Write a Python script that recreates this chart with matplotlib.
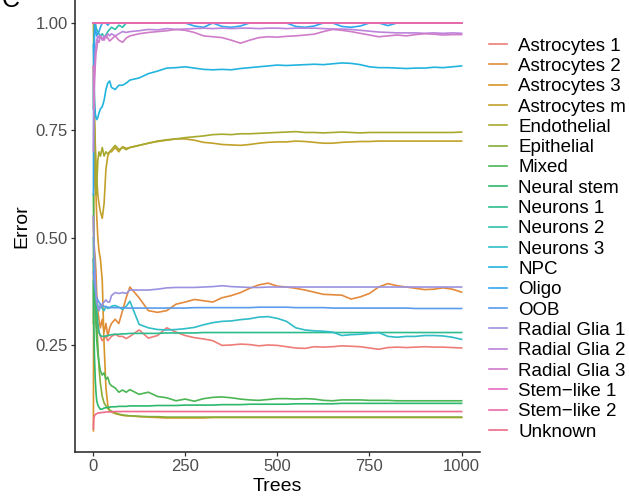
import matplotlib
matplotlib.use('Agg')
import matplotlib.pyplot as plt

# number of trees at each sampled point (shared by all series)
trees = [1, 2, 4, 6, 8, 10, 13, 16, 20, 25, 30, 35, 40, 45, 50, 60, 70, 80, 90,
         100, 125, 150, 175, 200, 225, 250, 275, 300, 325,
         350, 375, 400, 425, 450, 475, 500, 525, 550, 575,
         600, 625, 650, 675, 700, 725, 750, 775, 800, 825,
         850, 875, 900, 925, 950, 975, 1000]

astro1 = [0.45, 0.40, 0.35, 0.33, 0.30, 0.29, 0.30, 0.28, 0.27, 0.26, 0.265, 0.27, 0.26, 0.265, 0.27, 0.275, 0.27, 0.27, 0.265,
          0.27, 0.285, 0.266, 0.272, 0.29, 0.28, 0.272, 0.267, 0.264, 0.26,
          0.249, 0.25, 0.252, 0.251, 0.248, 0.25, 0.249, 0.246, 0.243, 0.242,
          0.246, 0.245, 0.246, 0.248, 0.247, 0.246, 0.243, 0.24, 0.244, 0.245,
          0.244, 0.245, 0.246, 0.245, 0.245, 0.244, 0.243]
astro2 = [0.55, 0.50, 0.47, 0.45, 0.42, 0.37, 0.33, 0.31, 0.29, 0.31, 0.28, 0.30, 0.27, 0.29, 0.30, 0.31, 0.30, 0.33, 0.36,
          0.385, 0.36, 0.33, 0.326, 0.33, 0.345, 0.35, 0.356, 0.353, 0.35,
          0.36, 0.365, 0.372, 0.382, 0.39, 0.394, 0.387, 0.385, 0.382, 0.378,
          0.373, 0.368, 0.367, 0.366, 0.357, 0.362, 0.37, 0.385, 0.393, 0.388,
          0.385, 0.382, 0.379, 0.38, 0.383, 0.38, 0.373]
astro3 = [0.05, 0.60, 0.70, 0.65, 0.60, 0.55, 0.50, 0.47, 0.45, 0.40, 0.25, 0.15, 0.11, 0.097, 0.094, 0.09, 0.088, 0.086, 0.085,
          0.085, 0.083, 0.082, 0.081, 0.08, 0.08, 0.08, 0.08, 0.08, 0.081,
          0.081, 0.081, 0.081, 0.081, 0.081, 0.081, 0.081, 0.081, 0.081, 0.081,
          0.081, 0.081, 0.081, 0.081, 0.081, 0.081, 0.081, 0.081, 0.081, 0.081,
          0.081, 0.081, 0.081, 0.081, 0.081, 0.081, 0.081]
astro_m = [1.0, 0.90, 0.80, 0.72, 0.68, 0.64, 0.60, 0.58, 0.56, 0.545, 0.58, 0.66, 0.69, 0.70, 0.70, 0.71, 0.70, 0.712, 0.708,
           0.71, 0.715, 0.72, 0.724, 0.727, 0.73, 0.73, 0.727, 0.722, 0.72,
           0.717, 0.716, 0.715, 0.717, 0.72, 0.722, 0.723, 0.723, 0.725, 0.724,
           0.722, 0.72, 0.72, 0.722, 0.723, 0.724, 0.724, 0.725, 0.725, 0.725,
           0.725, 0.725, 0.725, 0.725, 0.725, 0.725, 0.725]
endothelial = [0.90, 0.80, 0.75, 0.67, 0.60, 0.62, 0.68, 0.70, 0.69, 0.71, 0.69, 0.70, 0.695, 0.70, 0.705, 0.715, 0.705, 0.71, 0.705,
               0.71, 0.715, 0.72, 0.725, 0.728, 0.73, 0.733, 0.735, 0.737, 0.74,
               0.741, 0.74, 0.742, 0.742, 0.743, 0.744, 0.745, 0.746, 0.747, 0.745,
               0.745, 0.744, 0.745, 0.746, 0.745, 0.744, 0.745, 0.745, 0.745, 0.745,
               0.745, 0.745, 0.745, 0.745, 0.745, 0.745, 0.746]
epithelial = [0.30, 0.50, 0.45, 0.40, 0.35, 0.30, 0.25, 0.20, 0.16, 0.13, 0.115, 0.108, 0.102, 0.098, 0.096, 0.092, 0.089, 0.087, 0.086,
              0.085, 0.084, 0.083, 0.083, 0.082, 0.082, 0.082, 0.082, 0.082, 0.082,
              0.082, 0.082, 0.082, 0.082, 0.082, 0.082, 0.082, 0.082, 0.082, 0.082,
              0.082, 0.082, 0.082, 0.082, 0.082, 0.082, 0.082, 0.082, 0.082, 0.082,
              0.082, 0.082, 0.082, 0.082, 0.082, 0.082, 0.082]
mixed = [0.60, 0.50, 0.40, 0.35, 0.30, 0.26, 0.23, 0.21, 0.19, 0.18, 0.185, 0.17, 0.175, 0.16, 0.155, 0.15, 0.14, 0.145, 0.14,
         0.146, 0.135, 0.14, 0.13, 0.127, 0.12, 0.124, 0.119, 0.125, 0.128,
         0.129, 0.127, 0.124, 0.122, 0.121, 0.123, 0.125, 0.125, 0.124, 0.125,
         0.124, 0.121, 0.12, 0.122, 0.122, 0.122, 0.121, 0.121, 0.121, 0.12,
         0.12, 0.12, 0.12, 0.12, 0.12, 0.12, 0.12]
neural_stem = [0.40, 0.30, 0.22, 0.17, 0.14, 0.12, 0.11, 0.105, 0.10, 0.101, 0.103, 0.104, 0.105, 0.105, 0.106, 0.106, 0.107, 0.107, 0.107,
               0.108, 0.108, 0.108, 0.109, 0.109, 0.109, 0.11, 0.11, 0.11, 0.11,
               0.111, 0.111, 0.111, 0.112, 0.112, 0.112, 0.112, 0.112, 0.113, 0.113,
               0.113, 0.113, 0.113, 0.114, 0.114, 0.114, 0.114, 0.114, 0.114, 0.114,
               0.114, 0.114, 0.114, 0.114, 0.114, 0.114, 0.114]
neurons1 = [0.50, 0.45, 0.42, 0.39, 0.36, 0.33, 0.30, 0.28, 0.272, 0.27, 0.27, 0.271, 0.272, 0.273, 0.274, 0.275, 0.275, 0.276, 0.276,
            0.277, 0.277, 0.277, 0.277, 0.278, 0.278, 0.278, 0.278, 0.279, 0.279,
            0.279, 0.279, 0.279, 0.279, 0.279, 0.279, 0.279, 0.279, 0.279, 0.279,
            0.279, 0.279, 0.279, 0.279, 0.279, 0.279, 0.279, 0.279, 0.279, 0.279,
            0.279, 0.279, 0.279, 0.279, 0.279, 0.279, 0.279]
neurons2 = [0.80, 0.95, 1.0, 1.0, 0.99, 0.985, 0.98, 0.975, 0.97, 0.975, 0.968, 0.972, 0.98, 0.985, 0.99, 0.985, 0.995, 0.99, 1.0,
            1.0, 1.0, 1.0, 1.0, 1.0, 1.0, 1.0, 1.0, 1.0, 1.0,
            1.0, 1.0, 1.0, 1.0, 1.0, 1.0, 1.0, 1.0, 1.0, 1.0,
            1.0, 1.0, 1.0, 1.0, 1.0, 1.0, 1.0, 1.0, 1.0, 1.0,
            1.0, 1.0, 1.0, 1.0, 1.0, 1.0, 1.0]
neurons3 = [0.45, 0.42, 0.40, 0.38, 0.36, 0.35, 0.34, 0.33, 0.345, 0.335, 0.33, 0.34, 0.335, 0.337, 0.34, 0.342, 0.338, 0.333, 0.34,
            0.352, 0.298, 0.29, 0.286, 0.285, 0.286, 0.288, 0.291, 0.297, 0.302,
            0.305, 0.306, 0.309, 0.311, 0.315, 0.316, 0.312, 0.305, 0.29, 0.285,
            0.283, 0.282, 0.28, 0.272, 0.274, 0.275, 0.277, 0.279, 0.27, 0.268,
            0.27, 0.27, 0.272, 0.272, 0.271, 0.268, 0.263]
npc = [0.95, 0.90, 0.82, 0.79, 0.78, 0.775, 0.78, 0.79, 0.80, 0.805, 0.82, 0.845, 0.86, 0.865, 0.85, 0.845, 0.855, 0.855, 0.86,
       0.867, 0.872, 0.882, 0.888, 0.895, 0.896, 0.898, 0.895, 0.892, 0.891,
       0.892, 0.891, 0.894, 0.896, 0.898, 0.9, 0.902, 0.901, 0.902, 0.903,
       0.904, 0.903, 0.905, 0.907, 0.906, 0.903, 0.898, 0.896, 0.896, 0.895,
       0.894, 0.895, 0.895, 0.897, 0.896, 0.898, 0.9]
oligo = [0.60, 0.90, 0.97, 1.0, 0.98, 0.97, 0.975, 0.98, 0.99, 1.0, 1.0, 1.0, 0.995, 1.0, 1.0, 1.0, 1.0, 1.0, 1.0,
         1.0, 1.0, 1.0, 1.0, 1.0, 1.0, 1.0, 0.993, 0.99, 1.0,
         0.992, 0.99, 0.993, 1.0, 1.0, 1.0, 1.0, 1.0, 0.992, 0.99,
         0.993, 1.0, 1.0, 0.992, 0.99, 0.993, 1.0, 1.0, 0.994, 1.0,
         1.0, 1.0, 1.0, 1.0, 1.0, 1.0, 1.0]
oob = [0.42, 0.41, 0.39, 0.38, 0.37, 0.36, 0.355, 0.35, 0.345, 0.342, 0.34, 0.339, 0.338, 0.337, 0.337, 0.337, 0.337, 0.337, 0.336,
       0.336, 0.336, 0.336, 0.336, 0.336, 0.336, 0.336, 0.337, 0.337, 0.337,
       0.337, 0.337, 0.337, 0.337, 0.338, 0.338, 0.338, 0.338, 0.337, 0.337,
       0.337, 0.337, 0.336, 0.336, 0.336, 0.336, 0.336, 0.336, 0.336, 0.336,
       0.336, 0.335, 0.335, 0.335, 0.335, 0.335, 0.335]
rg1 = [0.55, 0.50, 0.45, 0.40, 0.37, 0.35, 0.34, 0.33, 0.34, 0.345, 0.35, 0.355, 0.35, 0.35, 0.365, 0.372, 0.37, 0.372, 0.37,
       0.378, 0.378, 0.378, 0.38, 0.383, 0.384, 0.384, 0.384, 0.385, 0.386,
       0.388, 0.386, 0.385, 0.384, 0.384, 0.385, 0.385, 0.385, 0.385, 0.385,
       0.385, 0.385, 0.385, 0.385, 0.385, 0.385, 0.385, 0.385, 0.385, 0.385,
       0.385, 0.385, 0.385, 0.385, 0.385, 0.385, 0.385]
rg2 = [0.70, 0.80, 0.88, 0.93, 0.95, 0.96, 0.97, 0.965, 0.97, 0.96, 0.97, 0.965, 0.975, 0.97, 0.975, 0.97, 0.975, 0.98, 0.978,
       0.98, 0.982, 0.985, 0.984, 0.987, 0.985, 0.986, 0.987, 0.988, 0.987,
       0.988, 0.987, 0.988, 0.988, 0.987, 0.988, 0.988, 0.987, 0.988, 0.988,
       0.988, 0.987, 0.986, 0.986, 0.985, 0.983, 0.981, 0.979, 0.978, 0.977,
       0.977, 0.977, 0.976, 0.977, 0.976, 0.977, 0.976]
rg3 = [0.90, 0.80, 0.87, 0.90, 0.93, 0.94, 0.96, 0.955, 0.97, 0.965, 0.96, 0.97, 0.965, 0.958, 0.962, 0.97, 0.96, 0.955, 0.965,
       0.97, 0.975, 0.978, 0.98, 0.982, 0.985, 0.983, 0.978, 0.97, 0.968,
       0.966, 0.96, 0.953, 0.96, 0.966, 0.968, 0.967, 0.969, 0.97, 0.972,
       0.974, 0.98, 0.985, 0.983, 0.98, 0.976, 0.972, 0.968, 0.97, 0.972,
       0.97, 0.973, 0.975, 0.974, 0.972, 0.973, 0.973]
stem1 = [1.0, 1.0, 1.0, 1.0, 1.0, 1.0, 1.0, 1.0, 1.0, 1.0, 1.0, 1.0, 1.0, 1.0, 1.0, 1.0, 1.0, 1.0, 1.0,
         1.0, 1.0, 1.0, 1.0, 1.0, 1.0, 1.0, 1.0, 1.0, 1.0,
         1.0, 1.0, 1.0, 1.0, 1.0, 1.0, 1.0, 1.0, 1.0, 1.0,
         1.0, 1.0, 1.0, 1.0, 1.0, 1.0, 1.0, 1.0, 1.0, 1.0,
         1.0, 1.0, 1.0, 1.0, 1.0, 1.0, 1.0]
stem2 = [1.0, 1.0, 1.0, 1.0, 1.0, 1.0, 1.0, 1.0, 1.0, 1.0, 1.0, 1.0, 1.0, 1.0, 1.0, 1.0, 1.0, 1.0, 1.0,
         1.0, 1.0, 1.0, 1.0, 1.0, 1.0, 1.0, 1.0, 1.0, 1.0,
         1.0, 1.0, 1.0, 1.0, 1.0, 1.0, 1.0, 1.0, 1.0, 1.0,
         1.0, 1.0, 1.0, 1.0, 1.0, 1.0, 1.0, 1.0, 1.0, 1.0,
         1.0, 1.0, 1.0, 1.0, 1.0, 1.0, 1.0]
unknown = [0.055, 0.08, 0.085, 0.088, 0.089, 0.09, 0.091, 0.092, 0.092, 0.093, 0.093, 0.094, 0.094, 0.094, 0.094, 0.095, 0.095, 0.095, 0.095,
           0.095, 0.095, 0.095, 0.095, 0.095, 0.095, 0.095, 0.095, 0.095, 0.095,
           0.095, 0.095, 0.095, 0.095, 0.095, 0.095, 0.095, 0.095, 0.095, 0.095,
           0.095, 0.095, 0.095, 0.095, 0.095, 0.095, 0.095, 0.095, 0.095, 0.095,
           0.095, 0.095, 0.095, 0.095, 0.095, 0.095, 0.095]

labels = ['Astrocytes 1', 'Astrocytes 2', 'Astrocytes 3', 'Astrocytes m', 'Endothelial',
          'Epithelial', 'Mixed', 'Neural stem', 'Neurons 1', 'Neurons 2', 'Neurons 3',
          'NPC', 'Oligo', 'OOB', 'Radial Glia 1', 'Radial Glia 2', 'Radial Glia 3',
          'Stem\u2212like 1', 'Stem\u2212like 2', 'Unknown']
series = [astro1, astro2, astro3, astro_m, endothelial, epithelial, mixed, neural_stem,
          neurons1, neurons2, neurons3, npc, oligo, oob, rg1, rg2, rg3, stem1, stem2, unknown]
# ggplot-like hue palette, slightly muted as in the picture
colors = ['#EE7D78', '#E38A3C', '#D6962A', '#C2A12A', '#A7A92E', '#83AE38', '#4CB655',
          '#2DB86C', '#2DBB8F', '#2FBFAE', '#30BDC8', '#22B4DE', '#34A8EC', '#5A9CEB',
          '#9A92E0', '#BC84DC', '#CF7CC9', '#E56CC4', '#EC69A8', '#EF6A88']

for s in series:
    if len(s) != len(trees):
        raise ValueError('length mismatch')

plt.rcParams['font.family'] = ['Liberation Sans', 'DejaVu Sans']

fig = plt.figure(figsize=(6.29, 4.97), dpi=100)
ax = fig.add_axes([75 / 629, 45 / 497, 405 / 629, 452 / 497])

for name, vals, col in zip(labels, series, colors):
    ax.plot(trees, vals, color=col, lw=1.2, label=name)

ax.set_xlim(-48.95, 1049.95)
ax.set_ylim(0.0007, 1.0536)
ax.set_xticks([0, 250, 500, 750, 1000])
ax.set_yticks([0.25, 0.50, 0.75, 1.00])
ax.set_yticklabels(['0.25', '0.50', '0.75', '1.00'])
for side in ['top', 'right']:
    ax.spines[side].set_visible(False)
for side in ['left', 'bottom']:
    ax.spines[side].set_linewidth(1.1)
    ax.spines[side].set_color('#222222')
ax.tick_params(length=3, width=0.9, color='#333333', labelcolor='#4D4D4D', labelsize=12, pad=2)
ax.set_xlabel('Trees', fontsize=14, labelpad=3)
ax.set_ylabel('Error', fontsize=14, labelpad=4)

fig.legend(loc='center left', bbox_to_anchor=(489 / 629, 1 - 239 / 497), frameon=False,
           fontsize=13.5, handlelength=0.95, handletextpad=0.6, labelspacing=0.17,
           borderpad=0, borderaxespad=0)

fig.text(0.002, 1.0, 'C', fontsize=18, va='center', ha='left')

fig.savefig('out.png', dpi=100)
